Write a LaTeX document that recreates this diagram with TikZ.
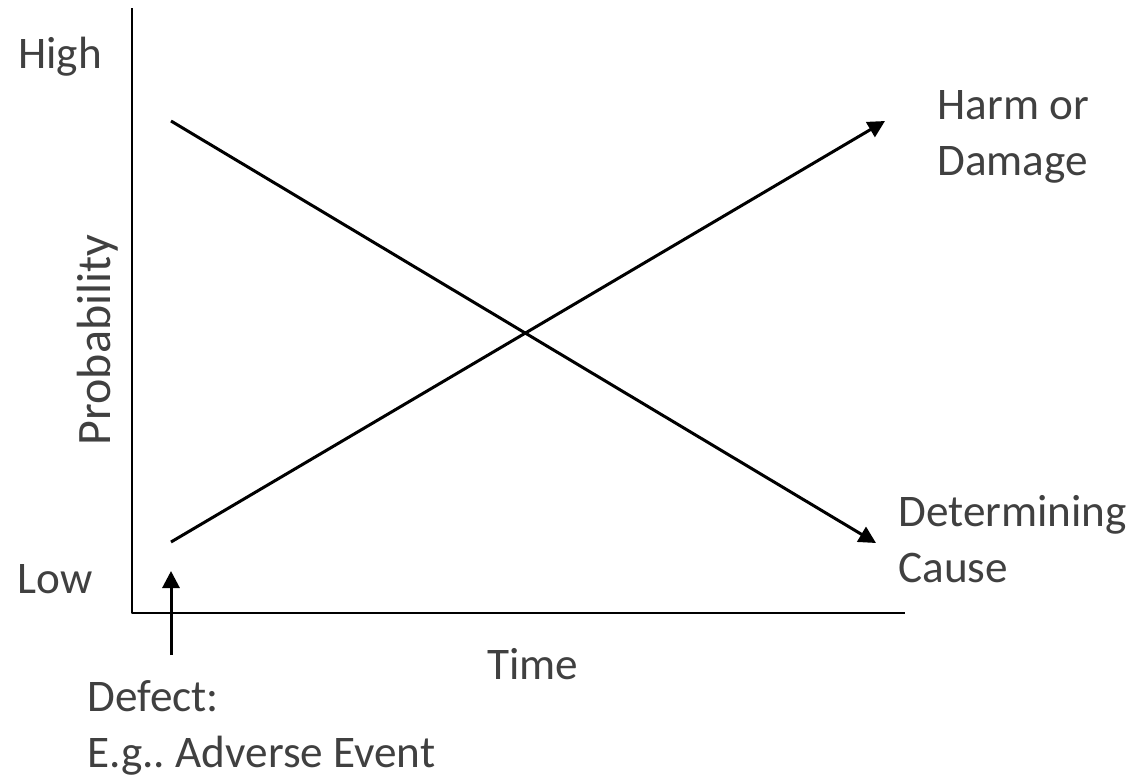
\documentclass[tikz,border=0pt]{standalone}
\usepackage{fontspec}
\setmainfont{Carlito}
\usetikzlibrary{arrows.meta}
\definecolor{labelgray}{HTML}{404040}
\frenchspacing
\tikzset{
  label text/.style={draw=none,inner sep=0pt,text=labelgray,font=\fontsize{22.6bp}{28bp}\selectfont,align=left},
  axis line/.style={black,line width=1bp},
  trend/.style={black,line width=1.5bp,->},
}
\begin{document}
\begin{tikzpicture}[>={Triangle[length=8.5bp,width=8.5bp]},line join=bevel,x=0.5bp,y=-0.5bp]
\useasboundingbox (0,0) rectangle (1143,777);
%%
\coordinate (axis_top) at (132,8);
  \coordinate (axis_origin) at (132,613);
  \coordinate (axis_right) at (905,613);
  \coordinate (rise_start) at (171,542);
  \coordinate (rise_end) at (885,121);
  \coordinate (fall_start) at (171,121);
  \coordinate (fall_end) at (876,543);
  \coordinate (defect_foot) at (171,655);
  \coordinate (defect_tip) at (171,571);
  \node (label_high) at (18,68) [label text,anchor=base west] {High};
  \node (label_low) at (17,593) [label text,anchor=base west] {Low};
  \node (label_prob) at (110,340) [label text,anchor=base,rotate=90,font=\fontsize{24bp}{28bp}\selectfont] {Probability};
  \node (label_time) at (487,679) [label text,anchor=base west] {Time};
  \node (label_harm) at (937,175) [label text,anchor=base west] {Harm or\\Damage};
  \node (label_cause) at (898,582) [label text,anchor=base west] {Determining\\Cause};
  \node (label_defect) at (87,767) [label text,anchor=base west] {Defect:\\E.g.. Adverse Event};
  \draw [axis line] (axis_top) -- (axis_origin) -- (axis_right);
  \draw [trend] (rise_start) -- (rise_end);
  \draw [trend] (fall_start) -- (fall_end);
  \draw [trend] (defect_foot) -- (defect_tip);
%
\end{tikzpicture}
\end{document}
